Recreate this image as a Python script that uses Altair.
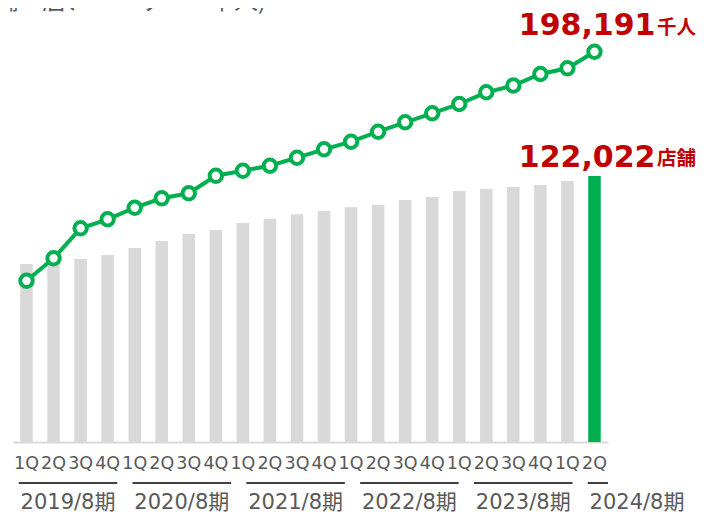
import altair as alt
import pandas as pd

# ---- data ----
quarters = ["1Q", "2Q", "3Q", "4Q", "1Q", "2Q", "3Q", "4Q", "1Q", "2Q", "3Q",
            "4Q", "1Q", "2Q", "3Q", "4Q", "1Q", "2Q", "3Q", "4Q", "1Q", "2Q"]
fiscal_years = ["2019/8期", "2020/8期", "2021/8期", "2022/8期", "2023/8期", "2024/8期"]
stores = [81654, 82801, 83948, 85783, 88994, 92205, 95416, 97251, 100462, 102434, 104453,
          105967, 107664, 108857, 111013, 112389, 115142, 116060, 116977, 117894, 119729, 122022]
users = [81907, 93281, 108515, 113085, 118975, 123749, 126288, 135225, 137764, 140303, 144366,
         148630, 152489, 157567, 162340, 166910, 171633, 177575, 181028, 186867, 189762, 198191]
title_text = "(加盟店舗：店、ユーザー：千人)"
user_unit = "千人"
store_unit = "店舗"

n = len(quarters)
df = pd.DataFrame({"i": list(range(n)), "q": quarters, "stores": stores, "users": users})
df["latest"] = df["i"] == n - 1
last = df.tail(1).copy()
last["users_label"] = f"{users[-1]:,}"
last["stores_label"] = f"{stores[-1]:,}"
last["user_unit"] = user_unit
last["store_unit"] = store_unit
years_df = pd.DataFrame({"k": list(range(len(fiscal_years))), "fy": fiscal_years})
title_df = pd.DataFrame({"t": [title_text]})

# ---- style ----
W, H = 595, 434
GREEN = "#00b050"
GREY = "#d9d9d9"
RED = "#c00000"
TXT = "#595959"
FONT = "DejaVu Sans, 'Noto Sans CJK JP', sans-serif"
CJK = "'Noto Sans CJK JP', sans-serif"

xq = alt.Scale(domain=[-0.5, n - 0.5], padding=0, nice=False, zero=False)
y_st = alt.Scale(domain=[0, 199088], padding=0, nice=False)
y_us = alt.Scale(domain=[0, 220382], padding=0, nice=False)
yr_dom = [-0.4833, 4.745]

X = lambda: alt.X("i:Q", scale=xq, axis=None)

bars = alt.Chart(df).mark_bar(size=12.5).encode(
    x=alt.X("i:Q", scale=xq,
            axis=alt.Axis(labels=False, ticks=False, grid=False, domainColor=GREY,
                          domainWidth=2, title=None)),
    y=alt.Y("stores:Q", scale=y_st, axis=None),
    color=alt.condition("datum.latest", alt.value(GREEN), alt.value(GREY)),
)

line = alt.Chart(df).mark_line(color=GREEN, strokeWidth=4).encode(
    x=X(), y=alt.Y("users:Q", scale=y_us, axis=None))

points = alt.Chart(df).mark_circle(fill="white", stroke=GREEN, strokeWidth=4,
                                   size=154, opacity=1).encode(
    x=X(), y=alt.Y("users:Q", scale=y_us, axis=None))

users_num = alt.Chart(last).mark_text(font=FONT, fontSize=30, fontWeight="bold", color=RED,
                                      align="right", baseline="alphabetic", dx=61, dy=-17).encode(
    x=X(), y=alt.Y("users:Q", scale=y_us, axis=None), text="users_label:N")
users_u = alt.Chart(last).mark_text(font=CJK, fontSize=19.5, fontWeight="bold", color=RED,
                                    align="left", baseline="alphabetic", dx=62.5, dy=-18).encode(
    x=X(), y=alt.Y("users:Q", scale=y_us, axis=None), text="user_unit:N")

stores_num = alt.Chart(last).mark_text(font=FONT, fontSize=30, fontWeight="bold", color=RED,
                                       align="right", baseline="alphabetic", dx=61, dy=-9).encode(
    x=X(), y=alt.Y("stores:Q", scale=y_st, axis=None), text="stores_label:N")
stores_u = alt.Chart(last).mark_text(font=CJK, fontSize=19.5, fontWeight="bold", color=RED,
                                     align="left", baseline="alphabetic", dx=62.5, dy=-10.5).encode(
    x=X(), y=alt.Y("stores:Q", scale=y_st, axis=None), text="store_unit:N")

qlabels = alt.Chart(df).mark_text(font=FONT, fontSize=17.5, color=TXT, baseline="alphabetic").encode(
    x=X(), y=alt.value(461), text="q:N")

year_rules = alt.Chart(years_df).transform_calculate(
    a="datum.k - 0.433", b="datum.k + 0.433"
).mark_rule(color="black", strokeWidth=1.5).encode(
    x=alt.X("a:Q", scale=alt.Scale(domain=yr_dom, clamp=True, padding=0, nice=False, zero=False),
            axis=None),
    x2="b:Q",
    y=alt.value(475),
)

year_text = alt.Chart(years_df).mark_text(font=FONT, fontSize=21, color=TXT,
                                          baseline="alphabetic").encode(
    x=alt.X("k:Q", scale=alt.Scale(domain=yr_dom, padding=0, nice=False, zero=False), axis=None),
    y=alt.value(501),
    text="fy:N",
)

title = alt.Chart(title_df).mark_text(font=CJK, fontSize=24, color=TXT, align="right",
                                      baseline="alphabetic").encode(
    x=alt.value(253), y=alt.value(1), text="t:N")

chart = alt.layer(
    bars, line, points, users_num, users_u, stores_num, stores_u,
    qlabels, year_rules, year_text, title
).resolve_scale(x="independent", y="independent").properties(
    width=W, height=H,
    padding={"left": 5, "top": 0, "right": 89, "bottom": 73},
    autosize=alt.AutoSizeParams(type="none"),
).configure_view(stroke=None)

chart.save("out.html", embed_options={"renderer": "svg", "actions": False})
